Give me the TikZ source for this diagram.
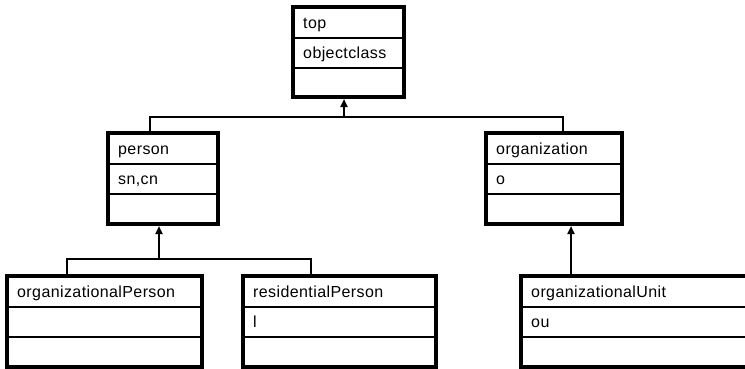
\documentclass[tikz,border=0pt]{standalone}
\usepackage{fontspec}
\setmainfont{Liberation Sans}[LetterSpace=2.5]
\usetikzlibrary{arrows.meta}

% A class box: name, x1, y1, x2, y2, title, attribute
\newcommand\umlclass[7]{%
  \node[classbox, minimum width={(#4-#2)*1bp}, minimum height={(#5-#3)*1bp}]
    (#1) at ({(#2+#4)/2},{(#3+#5)/2}) {};
  \draw[divider] (#1.west |- 0,{#3+31}) -- (#1.east |- 0,{#3+31});
  \draw[divider] (#1.west |- 0,{#3+61}) -- (#1.east |- 0,{#3+61});
  \node[classtext] (#1-name) at ({#2+10},{#3+21.5}) {#6};
  \node[classtext] (#1-attr) at ({#2+10},{#3+51}) {#7};
}

\tikzset{
  classbox/.style={draw=black, line width=4bp, inner sep=0pt, fill=white},
  divider/.style={draw=black, line width=2bp},
  classtext/.style={anchor=base west, inner sep=0pt,
    font=\fontsize{16bp}{19bp}\selectfont},
  link/.style={draw=black, line width=1.5bp},
  inherit/.style={link, line width=2bp, -{Triangle[length=8bp,width=7bp]}},
}

\begin{document}
\begin{tikzpicture}[x=1bp,y=-1bp]
  \useasboundingbox (0,0) rectangle (745,368);
  \clip (0,0) rectangle (745,368);

  % class boxes
  \umlclass{top}{293}{7}{404}{97}{top}{objectclass}
  \umlclass{person}{108}{133}{218}{224}{person}{sn,cn}
  \umlclass{org}{486}{133}{622}{224}{organization}{o}
  \umlclass{orgperson}{7}{276}{202}{367}{organizationalPerson}{}
  \umlclass{resperson}{243}{276}{436}{367}{residentialPerson}{l}
  \umlclass{orgunit}{521}{276}{770}{367}{organizationalUnit}{ou}

  % bus lines of the inheritance trees
  \coordinate (busA) at (344,117);
  \coordinate (busAL) at (150,117);
  \coordinate (busAR) at (563,117);
  \coordinate (busB) at (159,259);
  \coordinate (busBL) at (67,259);
  \coordinate (busBR) at (311,259);

  % top <- person, organization
  \draw[link] (person.north -| busAL) -- (busAL) -- (busAR) -- (org.north -| busAR);
  \draw[inherit] (busA) -- (top.south -| busA);

  % person <- organizationalPerson, residentialPerson
  \draw[link] (orgperson.north -| busBL) -- (busBL) -- (busBR) -- (resperson.north -| busBR);
  \draw[inherit] (busB) -- (person.south -| busB);

  % organization <- organizationalUnit
  \coordinate (linkC) at (571,250);
  \draw[inherit] (orgunit.north -| linkC) -- (org.south -| linkC);
\end{tikzpicture}
\end{document}
